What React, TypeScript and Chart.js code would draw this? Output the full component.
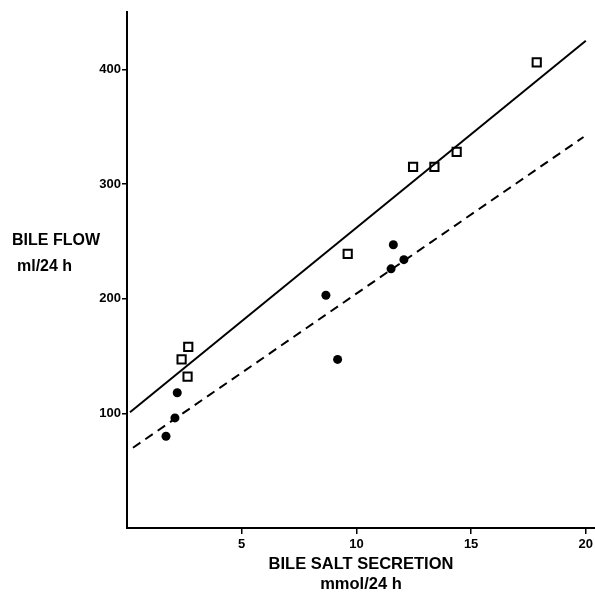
import { useEffect, useRef } from 'react';
import { Chart, registerables } from 'chart.js';

Chart.register(...registerables);

// Open squares
const squareX = [2.67, 2.38, 2.64, 9.62, 12.47, 13.4, 14.37, 17.86];
const squareY = [158, 147, 132, 239, 315, 315, 328, 406];
// Filled circles
const circleX = [2.19, 2.09, 1.7, 8.67, 9.18, 11.61, 12.07, 11.51];
const circleY = [118, 96, 80, 203, 147, 247, 234, 226];
// Regression lines
const solidLineX = [0.13, 20.0];
const solidLineY = [101, 425];
const dashedLineX = [0.26, 19.9];
const dashedLineY = [70, 341];
// Axes
const xTicks = [5, 10, 15, 20];
const yTicks = [100, 200, 300, 400];
const xTitle = ['BILE SALT SECRETION', 'mmol/24 h'];
const yTitle = ['BILE FLOW', 'ml/24 h'];

const FONT = '"Liberation Sans", Arial, sans-serif';

const toPts = (xs: number[], ys: number[]) => xs.map((x, i) => ({ x, y: ys[i] }));

const yTitlePlugin = {
  id: 'yTitlePlugin',
  afterDraw(chart: any) {
    const ctx = chart.ctx;
    ctx.save();
    ctx.fillStyle = '#000';
    ctx.font = `bold 16px ${FONT}`;
    ctx.textBaseline = 'middle';
    ctx.textAlign = 'left';
    ctx.fillText(yTitle[0], 12, 241);
    ctx.fillText(yTitle[1], 17, 267);
    ctx.restore();
  },
};

export default function App() {
  const ref = useRef<HTMLCanvasElement | null>(null);

  useEffect(() => {
    if (!ref.current) return;
    const chart = new Chart(ref.current, {
      type: 'scatter',
      data: {
        datasets: [
          {
            label: 'solid',
            data: toPts(solidLineX, solidLineY),
            showLine: true,
            borderColor: '#000',
            borderWidth: 2,
            pointRadius: 0,
            fill: false,
          },
          {
            label: 'dashed',
            data: toPts(dashedLineX, dashedLineY),
            showLine: true,
            borderColor: '#000',
            borderWidth: 2,
            borderDash: [9, 6],
            pointRadius: 0,
            fill: false,
          },
          {
            label: 'squares',
            data: toPts(squareX, squareY),
            pointStyle: 'rect',
            pointRadius: 5.8,
            pointBorderWidth: 2,
            pointBackgroundColor: '#fff',
            pointBorderColor: '#000',
            borderColor: '#000',
            backgroundColor: '#fff',
          },
          {
            label: 'circles',
            data: toPts(circleX, circleY),
            pointStyle: 'circle',
            pointRadius: 4.5,
            pointBorderWidth: 0,
            pointBackgroundColor: '#000',
            pointBorderColor: '#000',
            borderColor: '#000',
            backgroundColor: '#000',
          },
        ],
      },
      options: {
        responsive: false,
        animation: false,
        events: [],
        layout: { autoPadding: false, padding: { top: 12, left: 0, right: 0, bottom: 0 } },
        plugins: {
          legend: { display: false },
          tooltip: { enabled: false },
        },
        scales: {
          x: {
            type: 'linear',
            min: 0,
            max: 20.4,
            afterBuildTicks: (s: any) => {
              s.ticks = xTicks.map((v) => ({ value: v }));
            },
            afterFit: (s: any) => {
              s.height = 70;
              s.paddingLeft = 0;
              s.paddingRight = 0;
            },
            border: { display: true, color: '#000', width: 2 },
            grid: {
              display: true,
              drawOnChartArea: false,
              drawTicks: true,
              tickLength: 6,
              color: '#000',
              lineWidth: 1.5,
            },
            ticks: {
              color: '#000',
              font: { family: FONT, size: 13, weight: 'bold' },
              padding: 3,
              maxRotation: 0,
              autoSkip: false,
            },
            title: {
              display: true,
              text: xTitle,
              color: '#000',
              font: { family: FONT, size: 16.5, weight: 'bold' },
              padding: { top: 0, bottom: 4 },
            },
          },
          y: {
            type: 'linear',
            min: 0,
            max: 450,
            afterBuildTicks: (s: any) => {
              s.ticks = yTicks.map((v) => ({ value: v }));
            },
            afterFit: (s: any) => {
              s.width = 127;
              s.paddingTop = 0;
              s.paddingBottom = 0;
            },
            border: { display: true, color: '#000', width: 2 },
            grid: {
              display: true,
              drawOnChartArea: false,
              drawTicks: true,
              tickLength: 5,
              color: '#000',
              lineWidth: 1.5,
            },
            ticks: {
              color: '#000',
              font: { family: FONT, size: 13, weight: 'bold' },
              padding: 1,
              autoSkip: false,
            },
          },
        },
      },
      plugins: [yTitlePlugin],
    } as any);
    return () => chart.destroy();
  }, []);

  return (
    <div style={{ position: 'fixed', left: 0, top: 0, width: 595, height: 598, background: '#fff' }}>
      <canvas ref={ref} width={595} height={598} style={{ display: 'block' }} />
    </div>
  );
}
